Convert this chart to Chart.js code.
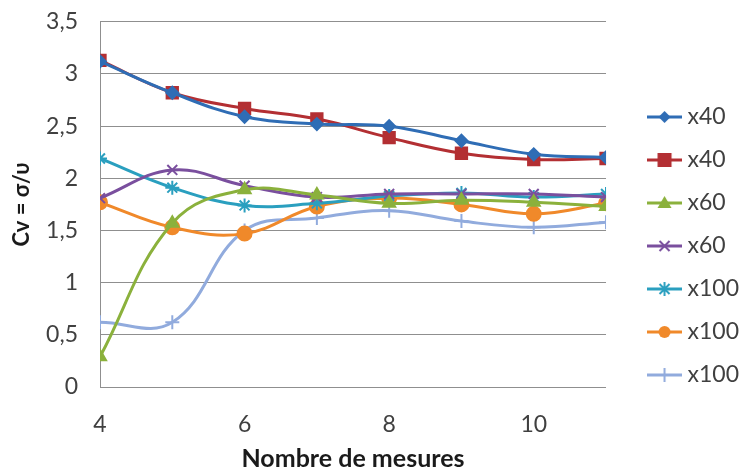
<!DOCTYPE html>
<html>
<head>
<meta charset="utf-8">
<script src="https://cdn.jsdelivr.net/npm/chart.js@4.4.1/dist/chart.umd.min.js"></script>
<style>
  html, body { margin: 0; padding: 0; background: #fff; }
  #wrap { width: 741px; height: 471px; }
</style>
</head>
<body>
<div id="wrap"><canvas id="cvChart" width="741" height="471"></canvas></div>
<script>
const measures = [4, 5, 6, 7, 8, 9, 10, 11];
const x40Blue = [3.12, 2.82, 2.59, 2.52, 2.50, 2.36, 2.23, 2.20];
const x40Red = [3.13, 2.82, 2.67, 2.57, 2.39, 2.24, 2.18, 2.19];
const x60Green = [0.29, 1.57, 1.89, 1.84, 1.76, 1.79, 1.77, 1.73];
const x60Purple = [1.81, 2.08, 1.93, 1.82, 1.85, 1.85, 1.85, 1.82];
const x100Teal = [2.19, 1.91, 1.74, 1.76, 1.83, 1.86, 1.82, 1.85];
const x100Orange = [1.77, 1.53, 1.47, 1.73, 1.81, 1.75, 1.66, 1.76];
const x100Light = [0.62, 0.62, 1.50, 1.62, 1.69, 1.59, 1.53, 1.58];
const yTicks = [0, 0.5, 1, 1.5, 2, 2.5, 3, 3.5];

const FONT = 'Lato, "Open Sans", sans-serif';
const TEXT = '#404040';

function series(label, values, color, style, radius) {
    return {
        label: label,
        data: measures.map((m, i) => ({ x: m, y: values[i] })),
        borderColor: color,
        backgroundColor: color,
        borderWidth: 3,
        tension: 0.4,
        pointStyle: style,
        pointRadius: radius,
        pointBorderWidth: 2,
        pointBorderColor: color,
        pointBackgroundColor: color,
        fill: false
    };
}

const datasets = [
    series('x40', x40Blue, '#2f6db5', 'rectRot', 6),
    series('x40', x40Red, '#b32f33', 'rect', 8),
    series('x60', x60Green, '#8bb13c', 'triangle', 7),
    series('x60', x60Purple, '#7a4f9e', 'crossRot', 7),
    series('x100', x100Teal, '#2a9fbf', 'star', 7),
    series('x100', x100Orange, '#f0892a', 'circle', 7),
    series('x100', x100Light, '#91abdd', 'cross', 7)
];

// small canvas used as legend symbol: line with the marker in the middle
function legendSymbol(ds) {
    const c = document.createElement('canvas');
    c.width = 35; c.height = 18;
    const g = c.getContext('2d');
    g.strokeStyle = ds.borderColor;
    g.fillStyle = ds.borderColor;
    g.lineWidth = 3;
    g.beginPath(); g.moveTo(0, 9); g.lineTo(35, 9); g.stroke();
    const cx = 17.5, cy = 9, r = 6;
    g.lineWidth = 2;
    switch (ds.pointStyle) {
        case 'rectRot':
            g.beginPath(); g.moveTo(cx, cy - r); g.lineTo(cx + r, cy); g.lineTo(cx, cy + r); g.lineTo(cx - r, cy); g.closePath(); g.fill(); break;
        case 'rect':
            g.fillRect(cx - 7, cy - 7, 14, 14); break;
        case 'triangle':
            g.beginPath(); g.moveTo(cx, cy - 7); g.lineTo(cx + 7, cy + 5); g.lineTo(cx - 7, cy + 5); g.closePath(); g.fill(); break;
        case 'crossRot':
            g.beginPath(); g.moveTo(cx - 5, cy - 5); g.lineTo(cx + 5, cy + 5); g.moveTo(cx + 5, cy - 5); g.lineTo(cx - 5, cy + 5); g.stroke(); break;
        case 'star':
            g.beginPath(); g.moveTo(cx - 5, cy - 5); g.lineTo(cx + 5, cy + 5); g.moveTo(cx + 5, cy - 5); g.lineTo(cx - 5, cy + 5);
            g.moveTo(cx, cy - 7); g.lineTo(cx, cy + 7); g.stroke(); break;
        case 'circle':
            g.beginPath(); g.arc(cx, cy, 6, 0, Math.PI * 2); g.fill(); break;
        case 'cross':
            g.beginPath(); g.moveTo(cx, cy - 7); g.lineTo(cx, cy + 7); g.stroke(); break;
    }
    return c;
}

new Chart(document.getElementById('cvChart'), {
    type: 'line',
    data: { datasets: datasets },
    options: {
        responsive: false,
        animation: false,
        layout: { padding: { top: 21, right: -8, bottom: 0, left: 0 } },
        plugins: {
            tooltip: { enabled: false },
            legend: {
                position: 'right',
                labels: {
                    usePointStyle: true,
                    pointStyleWidth: 23,
                    padding: 20,
                    color: TEXT,
                    font: { family: FONT, size: 23 },
                    generateLabels: (chart) => chart.data.datasets.map((ds, i) => ({
                        text: ds.label,
                        fillStyle: ds.borderColor,
                        strokeStyle: ds.borderColor,
                        lineWidth: 0,
                        pointStyle: legendSymbol(ds),
                        fontColor: TEXT,
                        hidden: false,
                        datasetIndex: i
                    }))
                }
            }
        },
        scales: {
            x: {
                type: 'linear',
                min: 4,
                max: 11,
                grid: { display: false },
                border: { display: false },
                ticks: {
                    stepSize: 2,
                    includeBounds: false,
                    padding: 16,
                    color: TEXT,
                    font: { family: FONT, size: 23 }
                },
                title: {
                    display: true,
                    text: 'Nombre de mesures',
                    color: '#1a1a1a',
                    font: { family: FONT, size: 25, weight: 'bold', lineHeight: 1 },
                    padding: { top: 4, bottom: 0 }
                },
                afterFit: (scale) => { scale.height = 84; }
            },
            y: {
                min: 0,
                max: 3.5,
                afterBuildTicks: (scale) => { scale.ticks = yTicks.map(v => ({ value: v })); },
                grid: { color: '#8f8f8f', lineWidth: 1, drawTicks: true, tickLength: 14, tickColor: 'rgba(0,0,0,0)' },
                border: { display: true, color: '#8f8f8f' },
                ticks: {
                    padding: 8,
                    color: TEXT,
                    font: { family: FONT, size: 23 },
                    callback: (v) => String(v).replace('.', ',')
                },
                title: {
                    display: true,
                    text: 'Cv = σ/υ',
                    color: '#1a1a1a',
                    font: { family: FONT, size: 22, weight: 'bold' },
                    padding: { top: 9, bottom: 0 }
                },
                afterFit: (scale) => { scale.width = 100; }
            },
            gap: {
                type: 'linear',
                position: 'right',
                display: true,
                grid: { display: false },
                border: { display: false },
                ticks: { display: false },
                afterFit: (scale) => { scale.width = 27; }
            }
        }
    }
});
</script>
</body>
</html>
